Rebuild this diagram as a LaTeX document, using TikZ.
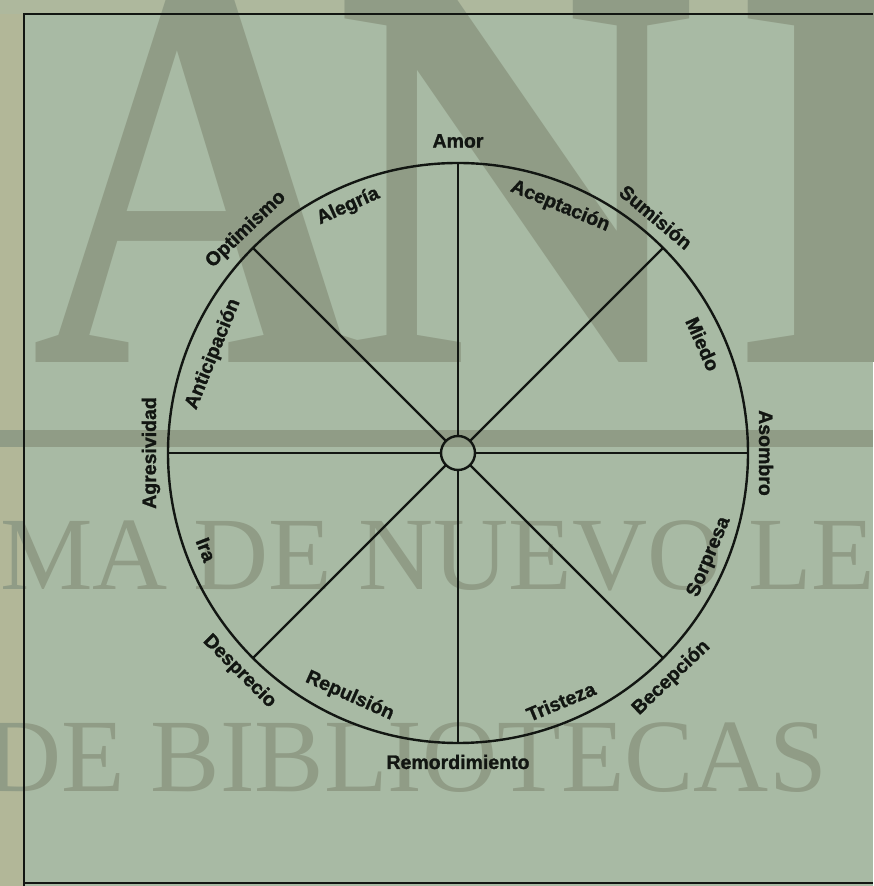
\documentclass[tikz,border=0pt]{standalone}
\usepackage{fontspec}
\newfontfamily\labfont[BoldFeatures={FakeBold=1.3}]{Liberation Sans}
\newfontfamily\wmfont{Liberation Serif}
\definecolor{ink}{RGB}{18,22,18}
\definecolor{bgc}{RGB}{168,186,164}
\definecolor{outc}{RGB}{178,183,152}
\definecolor{wmc}{RGB}{144,156,134}
\begin{document}
\begin{tikzpicture}[x=1pt,y=1pt,
  lbl/.style={font=\labfont\fontsize{19.5}{22}\selectfont\bfseries, text=ink, inner sep=0pt},
  ring/.style={draw=ink, line width=2.4pt, circle, inner sep=0pt, outer sep=0pt},
  spoke/.style={draw=ink, line width=2.4pt},
  frameline/.style={draw=ink, line width=2.6pt},
  wm/.style={text=wmc, inner sep=0pt}]
\useasboundingbox (0,0) rectangle (873,886);
\begin{scope}
\clip (0,0) rectangle (873,886);
\fill[bgc] (0,0) rectangle (873,886);
\fill[outc] (0,0) rectangle (24,886);
\fill[outc!60!bgc] (0,872) rectangle (873,886);
% watermark
\node[wm, anchor=base, font=\wmfont\fontsize{555}{555}\selectfont\bfseries] (wmA) at (200,523) {\scalebox{0.84}[1]{A}};
\node[wm, anchor=base, font=\wmfont\fontsize{555}{555}\selectfont\bfseries] (wmN) at (516,523) {\scalebox{0.9}[1]{N}};
\node[wm, anchor=base west, font=\wmfont\fontsize{555}{555}\selectfont\bfseries] (wmL) at (738,523) {L};
\fill[wmc] (0,439) rectangle (873,456);
\node[wm, anchor=base west, font=\wmfont\fontsize{104}{104}\selectfont] (wm1) at (0,296) {MA DE NUEVO LE};
\node[wm, anchor=base west, font=\wmfont\fontsize{104}{104}\selectfont] (wm2) at (-14,94) {DE BIBLIOTECAS};
\end{scope}
% frame
\coordinate (fbl) at (24,0);
\coordinate (ftl) at (24,872);
\coordinate (ftr) at (873,872);
\coordinate (fb1) at (24,3);
\coordinate (fb2) at (873,3);
\draw[frameline] (fbl) -- (ftl) -- (ftr);
\draw[frameline] (fb1) -- (fb2);
% wheel
\node[ring, minimum size=580] (wheel) at (458,433) {};
\node[ring, minimum size=34] (hub) at (458,433) {};
\foreach \a in {0,45,...,315} \draw[spoke] (hub.\a) -- (wheel.\a);
\begin{scope}[shift={(458,433)}]
\node[lbl, rotate=0] (amor) at (90:312) {Amor};
\node[lbl, rotate=-40] (sumision) at (50:308) {Sumisión};
\node[lbl, rotate=-90] (asombro) at (0:308) {Asombro};
\node[lbl, rotate=43.5] (becepcion) at (-46.5:310) {Becepción};
\node[lbl, rotate=0] (remord) at (270:309) {Remordimiento};
\node[lbl, rotate=-45] (desprecio) at (225:309) {Desprecio};
\node[lbl, rotate=90] (agres) at (180:307) {Agresividad};
\node[lbl, rotate=43.5] (optimismo) at (133.5:308) {Optimismo};
\node[lbl, rotate=-22.5] (acept) at (67.5:267) {Aceptación};
\node[lbl, rotate=-66] (miedo) at (24:268) {Miedo};
\node[lbl, rotate=67.5] (sorpresa) at (-22.5:272) {Sorpresa};
\node[lbl, rotate=22.5] (tristeza) at (-67.5:269) {Tristeza};
\node[lbl, rotate=-24] (repulsion) at (246:266) {Repulsión};
\node[lbl, rotate=-69] (ira) at (201:270) {Ira};
\node[lbl, rotate=68] (anticip) at (158:264) {Anticipación};
\node[lbl, rotate=24] (alegria) at (114:270) {Alegría};
\end{scope}
\end{tikzpicture}
\end{document}
